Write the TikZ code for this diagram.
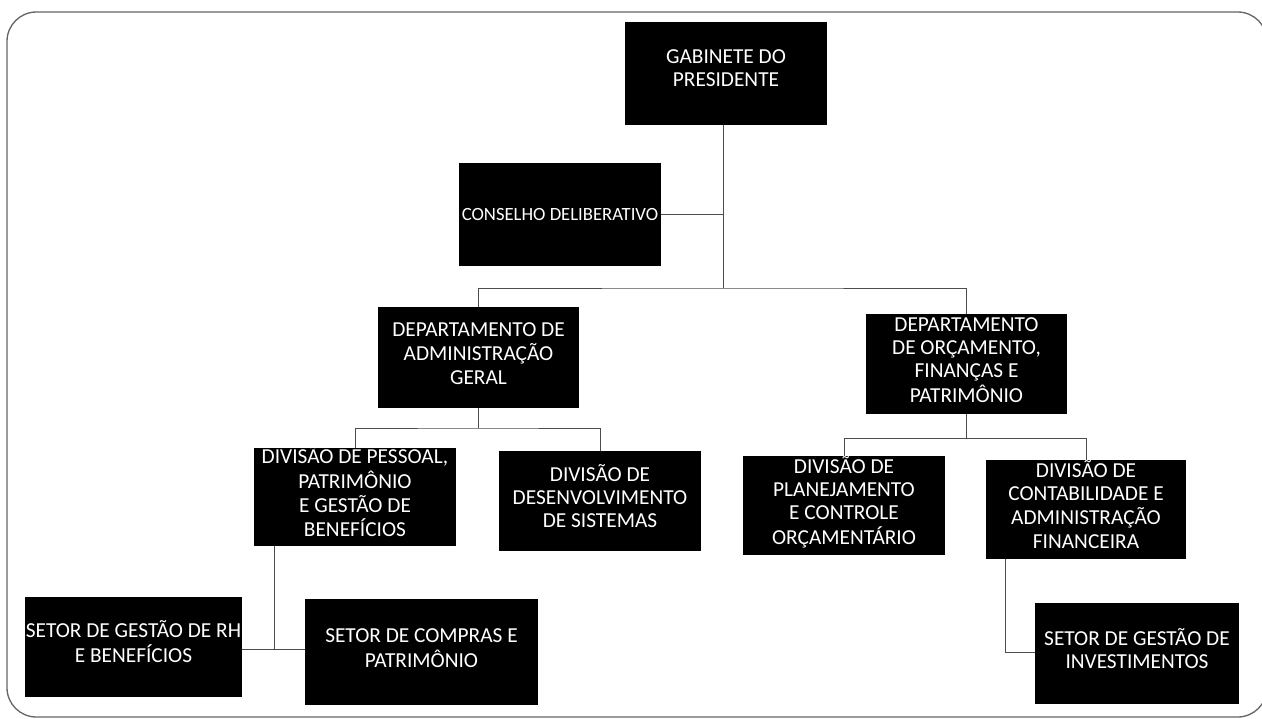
\documentclass[tikz,border=0pt]{standalone}
\usepackage{fontspec}
\setmainfont{Carlito}
\newcommand\orgt[1]{\raisebox{0pt}[\dimexpr\height-2.5pt\relax][\depth]{\begin{tabular}{@{}c@{}}#1\end{tabular}}}
\begin{document}
\begin{tikzpicture}[x=0.75pt,y=-0.75pt,
  org/.style={fill=black,text=white,inner sep=0pt,align=center,
    font=\fontsize{16}{17.4}\selectfont},
  sz/.style 2 args={minimum width=#1*0.75pt,minimum height=#2*0.75pt},
  link/.style={draw=black!70,line width=0.7pt},
  frame/.style={draw=black!60,line width=1pt,rounded corners=22pt}]
\useasboundingbox (0,0) rectangle (1262,718);
\clip (0,0) rectangle (1262,718);
\draw[frame] (7,12) rectangle (1267,717);

\node[org,sz={202}{103}] (gab) at (726,73.5) {\raisebox{0pt}[\dimexpr\height-5pt\relax][\depth]{\begin{tabular}{@{}c@{}}GABINETE DO\\PRESIDENTE\end{tabular}}};
\node[org,sz={202}{103},font=\fontsize{14}{17}\selectfont] (cons) at (560,214.5) {CONSELHO DELIBERATIVO};
\node[org,sz={201}{101}] (dag) at (478.5,357.5) {\orgt{DEPARTAMENTO DE\\ADMINISTRAÇÃO\\GERAL}};
\node[org,sz={201}{100}] (dofp) at (966.5,364) {\orgt{DEPARTAMENTO\\DE ORÇAMENTO,\\FINANÇAS E\\PATRIMÔNIO}};
\node[org,sz={202}{98}] (dpp) at (355,497) {\orgt{DIVISÃO DE PESSOAL,\\PATRIMÔNIO\\E GESTÃO DE\\BENEFÍCIOS}};
\node[org,sz={202}{100}] (dds) at (600,501) {\orgt{DIVISÃO DE\\DESENVOLVIMENTO\\DE SISTEMAS}};
\node[org,sz={202}{99}] (dpco) at (844,505.5) {\orgt{DIVISÃO DE\\PLANEJAMENTO\\E CONTROLE\\ORÇAMENTÁRIO}};
\node[org,sz={200}{99}] (dcaf) at (1086,509.5) {\orgt{DIVISÃO DE\\CONTABILIDADE E\\ADMINISTRAÇÃO\\FINANCEIRA}};
\node[org,sz={217}{100}] (rh) at (133.5,647) {\orgt{SETOR DE GESTÃO DE RH\\E BENEFÍCIOS}};
\node[org,sz={233}{106}] (comp) at (421.5,652) {\orgt{SETOR DE COMPRAS E\\PATRIMÔNIO}};
\node[org,sz={204}{101}] (inv) at (1137,653.5) {\orgt{SETOR DE GESTÃO DE\\INVESTIMENTOS}};

\coordinate (b1) at (723,288);
\coordinate (b2) at (478.5,428);
\coordinate (b3) at (966.5,438);
\coordinate (j4) at (274,649);
\coordinate (j5) at (1005,652);

\draw[link] (gab.south -| b1) -- (b1);
\draw[link] (cons.east) -- (cons.east -| b1);
\draw[link] (dag.north) |- (b1) -| (dofp.north);
\draw[link] (dag.south) -- (b2);
\draw[link] (dpp.north) |- (b2) -| (dds.north);
\draw[link] (dofp.south) -- (b3);
\draw[link] (dpco.north) |- (b3) -| (dcaf.north);
\draw[link] (dpp.south -| j4) -- (j4);
\draw[link] (rh.east |- j4) -- (comp.west |- j4);
\draw[link] (dcaf.south -| j5) -- (j5) -- (inv.west |- j5);
\end{tikzpicture}
\end{document}
